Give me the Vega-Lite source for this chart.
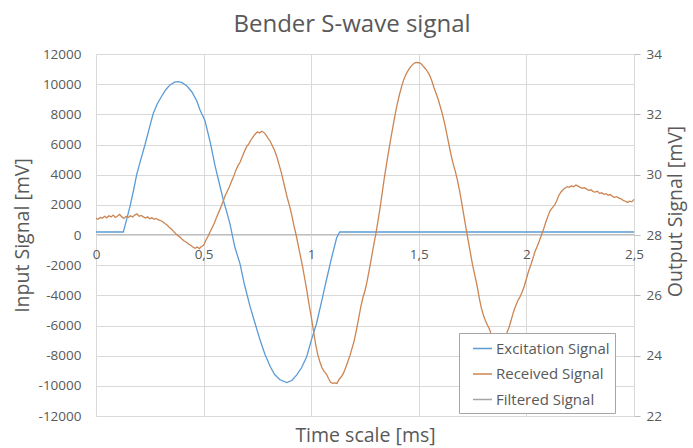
{
"$schema": "https://vega.github.io/schema/vega-lite/v6.json",
"width": 538,
"height": 362,
"autosize": {"type": "none"},
"padding": {"left": 96, "top": 54, "right": 59, "bottom": 32},
"background": "white",
"config": {"view": {"stroke": null}, "font": "Open Sans"},
"title": {"text": "Bender S-wave signal", "fontSize": 24, "font": "Open Sans", "fontWeight": "normal", "color": "#595959", "anchor": "middle", "frame": "group", "dx": -13, "offset": 10},
"data": {"values": [
{"s":"Excitation Signal","t":0,"v":200},{"s":"Excitation Signal","t":0.127,"v":200},{"s":"Excitation Signal","t":0.14,"v":900},{"s":"Excitation Signal","t":0.158,"v":1900},{"s":"Excitation Signal","t":0.175,"v":3000},{"s":"Excitation Signal","t":0.189,"v":4000},{"s":"Excitation Signal","t":0.21,"v":5100},{"s":"Excitation Signal","t":0.228,"v":6000},{"s":"Excitation Signal","t":0.25,"v":7200},{"s":"Excitation Signal","t":0.266,"v":8050},{"s":"Excitation Signal","t":0.285,"v":8700},{"s":"Excitation Signal","t":0.305,"v":9200},{"s":"Excitation Signal","t":0.325,"v":9650},{"s":"Excitation Signal","t":0.344,"v":9950},{"s":"Excitation Signal","t":0.365,"v":10130},{"s":"Excitation Signal","t":0.383,"v":10170},{"s":"Excitation Signal","t":0.4,"v":10100},{"s":"Excitation Signal","t":0.421,"v":9900},{"s":"Excitation Signal","t":0.445,"v":9500},{"s":"Excitation Signal","t":0.468,"v":8900},{"s":"Excitation Signal","t":0.483,"v":8300},{"s":"Excitation Signal","t":0.506,"v":7600},{"s":"Excitation Signal","t":0.53,"v":6200},{"s":"Excitation Signal","t":0.553,"v":4600},{"s":"Excitation Signal","t":0.575,"v":3300},{"s":"Excitation Signal","t":0.592,"v":2300},{"s":"Excitation Signal","t":0.61,"v":1400},{"s":"Excitation Signal","t":0.623,"v":700},{"s":"Excitation Signal","t":0.645,"v":-800},{"s":"Excitation Signal","t":0.669,"v":-1900},{"s":"Excitation Signal","t":0.69,"v":-3300},{"s":"Excitation Signal","t":0.716,"v":-4750},{"s":"Excitation Signal","t":0.74,"v":-5900},{"s":"Excitation Signal","t":0.762,"v":-6950},{"s":"Excitation Signal","t":0.785,"v":-7900},{"s":"Excitation Signal","t":0.809,"v":-8700},{"s":"Excitation Signal","t":0.83,"v":-9250},{"s":"Excitation Signal","t":0.855,"v":-9600},{"s":"Excitation Signal","t":0.886,"v":-9790},{"s":"Excitation Signal","t":0.91,"v":-9650},{"s":"Excitation Signal","t":0.933,"v":-9280},{"s":"Excitation Signal","t":0.955,"v":-8800},{"s":"Excitation Signal","t":0.979,"v":-8070},{"s":"Excitation Signal","t":1.0,"v":-7000},{"s":"Excitation Signal","t":1.025,"v":-5850},{"s":"Excitation Signal","t":1.05,"v":-4300},{"s":"Excitation Signal","t":1.072,"v":-2900},{"s":"Excitation Signal","t":1.095,"v":-1500},{"s":"Excitation Signal","t":1.118,"v":-200},{"s":"Excitation Signal","t":1.132,"v":200},{"s":"Excitation Signal","t":2.5,"v":200},
{"s":"Received Signal","t":0,"v":28.55},{"s":"Received Signal","t":0.01,"v":28.52},{"s":"Received Signal","t":0.02,"v":28.58},{"s":"Received Signal","t":0.03,"v":28.56},{"s":"Received Signal","t":0.04,"v":28.62},{"s":"Received Signal","t":0.05,"v":28.57},{"s":"Received Signal","t":0.06,"v":28.64},{"s":"Received Signal","t":0.07,"v":28.6},{"s":"Received Signal","t":0.08,"v":28.66},{"s":"Received Signal","t":0.09,"v":28.58},{"s":"Received Signal","t":0.1,"v":28.63},{"s":"Received Signal","t":0.11,"v":28.68},{"s":"Received Signal","t":0.12,"v":28.6},{"s":"Received Signal","t":0.13,"v":28.55},{"s":"Received Signal","t":0.14,"v":28.62},{"s":"Received Signal","t":0.15,"v":28.58},{"s":"Received Signal","t":0.16,"v":28.64},{"s":"Received Signal","t":0.17,"v":28.6},{"s":"Received Signal","t":0.18,"v":28.66},{"s":"Received Signal","t":0.19,"v":28.7},{"s":"Received Signal","t":0.2,"v":28.62},{"s":"Received Signal","t":0.21,"v":28.65},{"s":"Received Signal","t":0.22,"v":28.6},{"s":"Received Signal","t":0.23,"v":28.56},{"s":"Received Signal","t":0.24,"v":28.6},{"s":"Received Signal","t":0.25,"v":28.54},{"s":"Received Signal","t":0.26,"v":28.57},{"s":"Received Signal","t":0.27,"v":28.52},{"s":"Received Signal","t":0.28,"v":28.55},{"s":"Received Signal","t":0.29,"v":28.5},{"s":"Received Signal","t":0.3,"v":28.48},{"s":"Received Signal","t":0.31,"v":28.44},{"s":"Received Signal","t":0.32,"v":28.38},{"s":"Received Signal","t":0.33,"v":28.33},{"s":"Received Signal","t":0.34,"v":28.26},{"s":"Received Signal","t":0.35,"v":28.2},{"s":"Received Signal","t":0.36,"v":28.12},{"s":"Received Signal","t":0.37,"v":28.05},{"s":"Received Signal","t":0.38,"v":27.98},{"s":"Received Signal","t":0.39,"v":27.93},{"s":"Received Signal","t":0.4,"v":27.86},{"s":"Received Signal","t":0.41,"v":27.8},{"s":"Received Signal","t":0.42,"v":27.76},{"s":"Received Signal","t":0.43,"v":27.7},{"s":"Received Signal","t":0.44,"v":27.66},{"s":"Received Signal","t":0.45,"v":27.6},{"s":"Received Signal","t":0.46,"v":27.56},{"s":"Received Signal","t":0.47,"v":27.6},{"s":"Received Signal","t":0.48,"v":27.55},{"s":"Received Signal","t":0.49,"v":27.62},{"s":"Received Signal","t":0.5,"v":27.66},{"s":"Received Signal","t":0.51,"v":27.82},{"s":"Received Signal","t":0.52,"v":27.95},{"s":"Received Signal","t":0.53,"v":28.1},{"s":"Received Signal","t":0.54,"v":28.25},{"s":"Received Signal","t":0.55,"v":28.4},{"s":"Received Signal","t":0.56,"v":28.58},{"s":"Received Signal","t":0.57,"v":28.75},{"s":"Received Signal","t":0.58,"v":28.92},{"s":"Received Signal","t":0.59,"v":29.1},{"s":"Received Signal","t":0.6,"v":29.3},{"s":"Received Signal","t":0.61,"v":29.45},{"s":"Received Signal","t":0.62,"v":29.6},{"s":"Received Signal","t":0.63,"v":29.78},{"s":"Received Signal","t":0.64,"v":29.95},{"s":"Received Signal","t":0.65,"v":30.15},{"s":"Received Signal","t":0.66,"v":30.3},{"s":"Received Signal","t":0.67,"v":30.42},{"s":"Received Signal","t":0.68,"v":30.6},{"s":"Received Signal","t":0.69,"v":30.78},{"s":"Received Signal","t":0.7,"v":30.93},{"s":"Received Signal","t":0.71,"v":31.02},{"s":"Received Signal","t":0.72,"v":31.15},{"s":"Received Signal","t":0.73,"v":31.25},{"s":"Received Signal","t":0.74,"v":31.35},{"s":"Received Signal","t":0.75,"v":31.42},{"s":"Received Signal","t":0.76,"v":31.38},{"s":"Received Signal","t":0.77,"v":31.44},{"s":"Received Signal","t":0.78,"v":31.4},{"s":"Received Signal","t":0.79,"v":31.32},{"s":"Received Signal","t":0.8,"v":31.2},{"s":"Received Signal","t":0.81,"v":31.1},{"s":"Received Signal","t":0.82,"v":30.95},{"s":"Received Signal","t":0.83,"v":30.8},{"s":"Received Signal","t":0.84,"v":30.6},{"s":"Received Signal","t":0.85,"v":30.35},{"s":"Received Signal","t":0.86,"v":30.1},{"s":"Received Signal","t":0.87,"v":29.8},{"s":"Received Signal","t":0.88,"v":29.5},{"s":"Received Signal","t":0.89,"v":29.2},{"s":"Received Signal","t":0.9,"v":28.95},{"s":"Received Signal","t":0.91,"v":28.65},{"s":"Received Signal","t":0.92,"v":28.3},{"s":"Received Signal","t":0.93,"v":28.0},{"s":"Received Signal","t":0.94,"v":27.65},{"s":"Received Signal","t":0.95,"v":27.3},{"s":"Received Signal","t":0.96,"v":26.95},{"s":"Received Signal","t":0.97,"v":26.55},{"s":"Received Signal","t":0.98,"v":26.15},{"s":"Received Signal","t":0.99,"v":25.7},{"s":"Received Signal","t":1.0,"v":25.3},{"s":"Received Signal","t":1.01,"v":24.85},{"s":"Received Signal","t":1.02,"v":24.4},{"s":"Received Signal","t":1.03,"v":24.05},{"s":"Received Signal","t":1.04,"v":23.8},{"s":"Received Signal","t":1.05,"v":23.6},{"s":"Received Signal","t":1.06,"v":23.48},{"s":"Received Signal","t":1.07,"v":23.4},{"s":"Received Signal","t":1.08,"v":23.25},{"s":"Received Signal","t":1.09,"v":23.12},{"s":"Received Signal","t":1.1,"v":23.08},{"s":"Received Signal","t":1.11,"v":23.1},{"s":"Received Signal","t":1.12,"v":23.08},{"s":"Received Signal","t":1.13,"v":23.22},{"s":"Received Signal","t":1.14,"v":23.3},{"s":"Received Signal","t":1.15,"v":23.42},{"s":"Received Signal","t":1.16,"v":23.6},{"s":"Received Signal","t":1.17,"v":23.8},{"s":"Received Signal","t":1.18,"v":24.0},{"s":"Received Signal","t":1.19,"v":24.25},{"s":"Received Signal","t":1.2,"v":24.5},{"s":"Received Signal","t":1.21,"v":24.85},{"s":"Received Signal","t":1.22,"v":25.22},{"s":"Received Signal","t":1.23,"v":25.6},{"s":"Received Signal","t":1.24,"v":25.92},{"s":"Received Signal","t":1.25,"v":26.15},{"s":"Received Signal","t":1.26,"v":26.48},{"s":"Received Signal","t":1.27,"v":26.85},{"s":"Received Signal","t":1.28,"v":27.25},{"s":"Received Signal","t":1.29,"v":27.65},{"s":"Received Signal","t":1.3,"v":28.02},{"s":"Received Signal","t":1.31,"v":28.45},{"s":"Received Signal","t":1.32,"v":28.9},{"s":"Received Signal","t":1.33,"v":29.4},{"s":"Received Signal","t":1.34,"v":29.9},{"s":"Received Signal","t":1.35,"v":30.35},{"s":"Received Signal","t":1.36,"v":30.78},{"s":"Received Signal","t":1.37,"v":31.2},{"s":"Received Signal","t":1.38,"v":31.6},{"s":"Received Signal","t":1.39,"v":32.0},{"s":"Received Signal","t":1.4,"v":32.35},{"s":"Received Signal","t":1.41,"v":32.65},{"s":"Received Signal","t":1.42,"v":32.92},{"s":"Received Signal","t":1.43,"v":33.15},{"s":"Received Signal","t":1.44,"v":33.32},{"s":"Received Signal","t":1.45,"v":33.45},{"s":"Received Signal","t":1.46,"v":33.56},{"s":"Received Signal","t":1.47,"v":33.64},{"s":"Received Signal","t":1.48,"v":33.7},{"s":"Received Signal","t":1.49,"v":33.72},{"s":"Received Signal","t":1.5,"v":33.71},{"s":"Received Signal","t":1.51,"v":33.68},{"s":"Received Signal","t":1.52,"v":33.6},{"s":"Received Signal","t":1.53,"v":33.52},{"s":"Received Signal","t":1.54,"v":33.42},{"s":"Received Signal","t":1.55,"v":33.3},{"s":"Received Signal","t":1.56,"v":33.12},{"s":"Received Signal","t":1.57,"v":32.9},{"s":"Received Signal","t":1.58,"v":32.7},{"s":"Received Signal","t":1.59,"v":32.5},{"s":"Received Signal","t":1.6,"v":32.25},{"s":"Received Signal","t":1.61,"v":32.0},{"s":"Received Signal","t":1.62,"v":31.7},{"s":"Received Signal","t":1.63,"v":31.35},{"s":"Received Signal","t":1.64,"v":31.0},{"s":"Received Signal","t":1.65,"v":30.65},{"s":"Received Signal","t":1.66,"v":30.35},{"s":"Received Signal","t":1.67,"v":30.1},{"s":"Received Signal","t":1.68,"v":29.8},{"s":"Received Signal","t":1.69,"v":29.45},{"s":"Received Signal","t":1.7,"v":29.05},{"s":"Received Signal","t":1.71,"v":28.62},{"s":"Received Signal","t":1.72,"v":28.2},{"s":"Received Signal","t":1.73,"v":27.8},{"s":"Received Signal","t":1.74,"v":27.4},{"s":"Received Signal","t":1.75,"v":27.0},{"s":"Received Signal","t":1.76,"v":26.68},{"s":"Received Signal","t":1.77,"v":26.35},{"s":"Received Signal","t":1.78,"v":25.95},{"s":"Received Signal","t":1.79,"v":25.6},{"s":"Received Signal","t":1.8,"v":25.35},{"s":"Received Signal","t":1.81,"v":25.15},{"s":"Received Signal","t":1.82,"v":25.0},{"s":"Received Signal","t":1.83,"v":24.85},{"s":"Received Signal","t":1.84,"v":24.6},{"s":"Received Signal","t":1.85,"v":24.3},{"s":"Received Signal","t":1.86,"v":24.05},{"s":"Received Signal","t":1.87,"v":23.9},{"s":"Received Signal","t":1.88,"v":23.95},{"s":"Received Signal","t":1.89,"v":24.2},{"s":"Received Signal","t":1.9,"v":24.5},{"s":"Received Signal","t":1.91,"v":24.78},{"s":"Received Signal","t":1.92,"v":24.95},{"s":"Received Signal","t":1.93,"v":25.2},{"s":"Received Signal","t":1.94,"v":25.45},{"s":"Received Signal","t":1.95,"v":25.65},{"s":"Received Signal","t":1.96,"v":25.82},{"s":"Received Signal","t":1.97,"v":25.95},{"s":"Received Signal","t":1.98,"v":26.1},{"s":"Received Signal","t":1.99,"v":26.3},{"s":"Received Signal","t":2.0,"v":26.55},{"s":"Received Signal","t":2.01,"v":26.8},{"s":"Received Signal","t":2.02,"v":27.0},{"s":"Received Signal","t":2.03,"v":27.22},{"s":"Received Signal","t":2.04,"v":27.45},{"s":"Received Signal","t":2.05,"v":27.62},{"s":"Received Signal","t":2.06,"v":27.8},{"s":"Received Signal","t":2.07,"v":28.0},{"s":"Received Signal","t":2.08,"v":28.2},{"s":"Received Signal","t":2.09,"v":28.42},{"s":"Received Signal","t":2.1,"v":28.62},{"s":"Received Signal","t":2.11,"v":28.8},{"s":"Received Signal","t":2.12,"v":28.9},{"s":"Received Signal","t":2.13,"v":28.98},{"s":"Received Signal","t":2.14,"v":29.12},{"s":"Received Signal","t":2.15,"v":29.3},{"s":"Received Signal","t":2.16,"v":29.42},{"s":"Received Signal","t":2.17,"v":29.5},{"s":"Received Signal","t":2.18,"v":29.56},{"s":"Received Signal","t":2.19,"v":29.6},{"s":"Received Signal","t":2.2,"v":29.58},{"s":"Received Signal","t":2.21,"v":29.63},{"s":"Received Signal","t":2.22,"v":29.6},{"s":"Received Signal","t":2.23,"v":29.66},{"s":"Received Signal","t":2.24,"v":29.62},{"s":"Received Signal","t":2.25,"v":29.58},{"s":"Received Signal","t":2.26,"v":29.55},{"s":"Received Signal","t":2.27,"v":29.57},{"s":"Received Signal","t":2.28,"v":29.52},{"s":"Received Signal","t":2.29,"v":29.48},{"s":"Received Signal","t":2.3,"v":29.5},{"s":"Received Signal","t":2.31,"v":29.44},{"s":"Received Signal","t":2.32,"v":29.42},{"s":"Received Signal","t":2.33,"v":29.45},{"s":"Received Signal","t":2.34,"v":29.38},{"s":"Received Signal","t":2.35,"v":29.4},{"s":"Received Signal","t":2.36,"v":29.35},{"s":"Received Signal","t":2.37,"v":29.37},{"s":"Received Signal","t":2.38,"v":29.32},{"s":"Received Signal","t":2.39,"v":29.34},{"s":"Received Signal","t":2.4,"v":29.28},{"s":"Received Signal","t":2.41,"v":29.25},{"s":"Received Signal","t":2.42,"v":29.27},{"s":"Received Signal","t":2.43,"v":29.22},{"s":"Received Signal","t":2.44,"v":29.2},{"s":"Received Signal","t":2.45,"v":29.15},{"s":"Received Signal","t":2.46,"v":29.12},{"s":"Received Signal","t":2.47,"v":29.08},{"s":"Received Signal","t":2.48,"v":29.12},{"s":"Received Signal","t":2.49,"v":29.1},{"s":"Received Signal","t":2.5,"v":29.18}
]},
"layer": [
{
"transform": [{"filter": "datum.s === 'Excitation Signal'"}],
"mark": {"type": "line", "strokeWidth": 1.3},
"encoding": {
"x": {"field": "t", "type": "quantitative", "scale": {"domain": [0, 2.5], "nice": false},
"axis": {"title": "Time scale [ms]", "values": [0, 0.5, 1, 1.5, 2, 2.5], "labelExpr": "replace(toString(datum.value), '.', ',')", "offset": -182, "grid": true, "gridColor": "#D9D9D9", "domain": true, "domainColor": "#BFBFBF", "ticks": false, "labelPadding": 13, "labelFontSize": 13.5, "labelColor": "#595959", "labelFont": "Open Sans", "labelFlush": false, "labelOverlap": false, "titleFont": "Open Sans", "titleFontSize": 19.5, "titleColor": "#595959", "titleFontWeight": "normal", "titleY": 201, "titleBaseline": "middle"}},
"y": {"field": "v", "type": "quantitative", "scale": {"domain": [-12000, 12000], "nice": false},
"axis": {"orient": "left", "title": "Input Signal [mV]", "values": [-12000, -10000, -8000, -6000, -4000, -2000, 0, 2000, 4000, 6000, 8000, 10000, 12000], "labelExpr": "'' + datum.value", "grid": true, "gridColor": "#D9D9D9", "domain": false, "ticks": false, "labelPadding": 15, "labelFontSize": 13.5, "labelColor": "#595959", "labelFont": "Open Sans", "labelFlush": false, "labelOverlap": false, "titleFont": "Open Sans", "titleFontSize": 19.5, "titleColor": "#595959", "titleFontWeight": "normal", "titleX": -74, "titleY": 181, "titleAngle": 270, "titleAlign": "center", "titleBaseline": "middle"}},
"color": {"field": "s", "type": "nominal", "scale": {"domain": ["Excitation Signal", "Received Signal", "Filtered Signal"], "range": ["#5B9BD5", "#CC8552", "#A5A5A5"]},
"legend": {"orient": "none", "legendX": 363, "legendY": 279, "title": null, "symbolType": "stroke", "symbolSize": 361, "symbolStrokeWidth": 1.5, "labelFontSize": 15, "labelFont": "Open Sans", "labelColor": "#595959", "fillColor": "white", "strokeColor": "#A6A6A6", "padding": 5, "symbolOffset": 8, "labelOffset": 3, "rowPadding": 6.5, "labelLimit": 300}}
}
},
{
"transform": [{"filter": "datum.s === 'Received Signal'"}],
"mark": {"type": "line", "strokeWidth": 1.3},
"encoding": {
"x": {"field": "t", "type": "quantitative"},
"y": {"field": "v", "type": "quantitative", "scale": {"domain": [22, 34], "nice": false},
"axis": {"orient": "right", "title": "Output Signal [mV]", "values": [22, 24, 26, 28, 30, 32, 34], "grid": false, "domain": false, "ticks": true, "tickSize": 6, "tickColor": "#BFBFBF", "labelPadding": 6, "labelFontSize": 13.5, "labelColor": "#595959", "labelFont": "Open Sans", "labelFlush": false, "labelOverlap": false, "titleFont": "Open Sans", "titleFontSize": 19.5, "titleColor": "#595959", "titleFontWeight": "normal", "titleX": 41, "titleY": 157, "titleAngle": 270, "titleAlign": "center", "titleBaseline": "middle"}},
"color": {"field": "s", "type": "nominal"}
}
}
],
"resolve": {"scale": {"y": "independent"}}
}
